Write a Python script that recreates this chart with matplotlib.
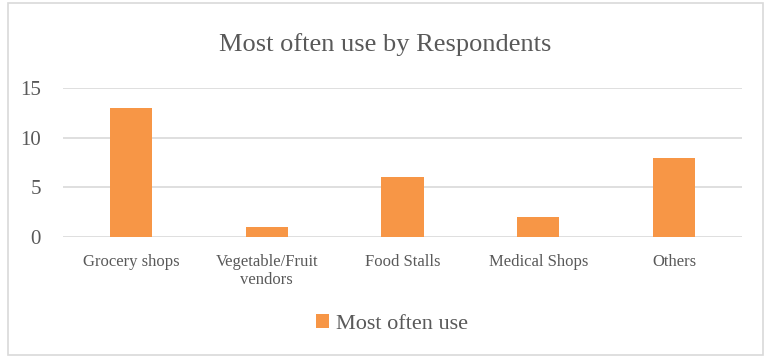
import matplotlib.pyplot as plt
from matplotlib.patches import Rectangle

categories = ['Grocery shops', 'Vegetable/Fruit\nvendors', 'Food Stalls', 'Medical Shops', 'Others']
counts = [13, 1, 6, 2, 8]
series_name = 'Most often use'
title = 'Most often use by Respondents'
yticks = [0, 5, 10, 15]

bar_color = '#F79646'
text_color = '#595959'
grid_color = '#D9D9D9'

plt.rcParams['font.family'] = ['Liberation Serif', 'DejaVu Serif']

fig = plt.figure(figsize=(7.71, 3.58), dpi=100)
ax = fig.add_axes([0.0817, 0.337, 0.8807, 0.418])

x = range(len(categories))
ax.bar(x, counts, width=0.31, color=bar_color, zorder=3, label=series_name)

ax.set_xlim(-0.5, len(categories) - 0.5)
ax.set_ylim(0, 15)
ax.set_yticks(yticks)
ax.set_xticks(list(x))
ax.set_xticklabels(categories, fontsize=12, color=text_color, linespacing=1.15)
ax.tick_params(axis='y', labelsize=15, labelcolor=text_color, length=0, pad=16)
ax.tick_params(axis='x', length=0, pad=12)
ax.yaxis.grid(True, color=grid_color, linewidth=1.2, zorder=0)
for s in ax.spines.values():
    s.set_visible(False)

fig.text(0.5, 0.875, title, ha='center', va='center', fontsize=19, color=text_color)

leg = fig.legend(loc='center', bbox_to_anchor=(0.508, 0.095), frameon=False,
                 fontsize=16, handlelength=0.6, handleheight=0.6, handletextpad=0.3)
for t in leg.get_texts():
    t.set_color(text_color)

# light border around the whole chart
fig.patches.append(Rectangle((0.011, 0.008), 0.979, 0.984, transform=fig.transFigure,
                             fill=False, edgecolor=grid_color, linewidth=1.2))

fig.savefig('out.png', dpi=100)
